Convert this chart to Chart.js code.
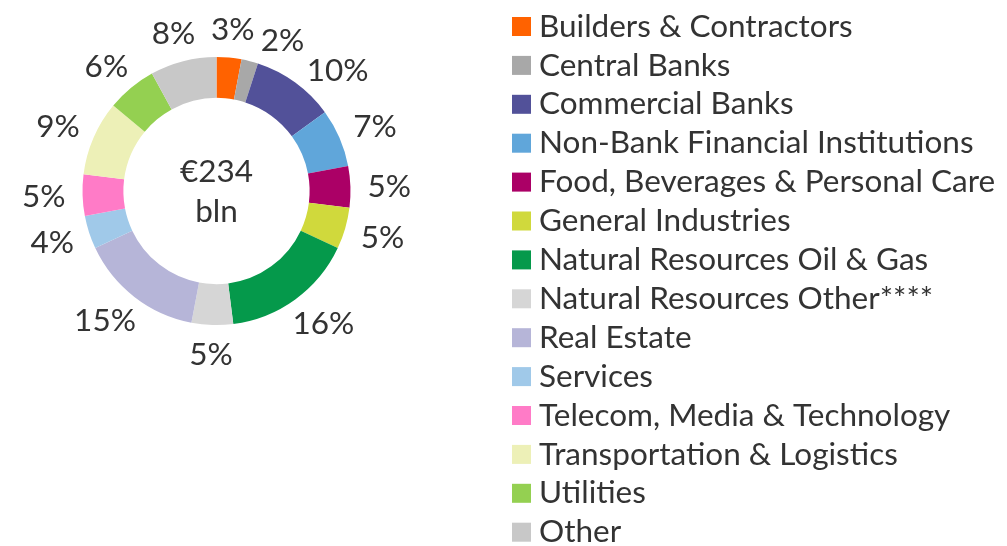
<!DOCTYPE html>
<html>
<head>
<meta charset="utf-8">
<script src="https://cdn.jsdelivr.net/npm/chart.js@4/dist/chart.umd.min.js"></script>
<style>
html,body{margin:0;padding:0;background:#fff;}
#wrap{position:relative;width:1007px;height:546px;}
</style>
</head>
<body>
<div id="wrap"><canvas id="c"></canvas></div>
<script>
const categories = [
  'Builders & Contractors',
  'Central Banks',
  'Commercial Banks',
  'Non-Bank Financial Institutions',
  'Food, Beverages & Personal Care',
  'General Industries',
  'Natural Resources Oil & Gas',
  'Natural Resources Other****',
  'Real Estate',
  'Services',
  'Telecom, Media & Technology',
  'Transportation & Logistics',
  'Utilities',
  'Other'
];
const shares = [3, 2, 10, 7, 5, 5, 16, 5, 15, 4, 5, 9, 6, 8];
const colors = [
  '#FF6200', '#A8A8A8', '#525199', '#60A6DA', '#AB0066', '#D0D93C', '#05994B',
  '#D6D6D6', '#B6B5D8', '#A0C9E9', '#FF7BC7', '#EDF0B7', '#94D051', '#C8C8C8'
];
const centerLines = ['€234', 'bln'];

const FONT_FAMILY = 'Lato, "Open Sans", sans-serif';
const FONT_SIZE = 31.5;
const TEXT_COLOR = '#333333';

function overlap(a, b, m) {
  return Math.abs(a.cx - b.cx) < (a.w + b.w) / 2 + m && Math.abs(a.cy - b.cy) < (a.h + b.h) / 2 + m;
}

const outLabels = {
  id: 'outLabels',
  afterDatasetsDraw(chart) {
    const meta = chart.getDatasetMeta(0);
    const ctx = chart.ctx;
    ctx.save();
    ctx.font = FONT_SIZE + 'px ' + FONT_FAMILY;
    ctx.fillStyle = TEXT_COLOR;
    ctx.textAlign = 'center';
    ctx.textBaseline = 'middle';
    const GAP = 17, H = 24;
    const placed = [];
    meta.data.forEach((arc, i) => {
      const p = arc.getProps(['x', 'y', 'startAngle', 'endAngle', 'outerRadius'], true);
      let a = (p.startAngle + p.endAngle) / 2;
      const text = shares[i] + '%';
      const w = ctx.measureText(text).width;
      let box;
      for (let k = 0; k < 80; k++) {
        const dx = Math.cos(a), dy = Math.sin(a);
        box = {
          cx: p.x + (p.outerRadius + GAP) * dx + (w / 2) * dx,
          cy: p.y + (p.outerRadius + GAP) * dy + (H / 2) * dy,
          w: w, h: H
        };
        if (!placed.some(b => overlap(b, box, 5))) break;
        a += 0.02;
      }
      placed.push(box);
      ctx.fillText(text, box.cx, box.cy + 1);
    });
    const c = meta.data[0].getProps(['x', 'y'], true);
    ctx.fillText(centerLines[0], c.x, c.y - 19);
    ctx.fillText(centerLines[1], c.x, c.y + 21);
    ctx.restore();
  }
};

const sideLegend = {
  id: 'sideLegend',
  afterDraw(chart) {
    const ctx = chart.ctx;
    ctx.save();
    ctx.font = FONT_SIZE + 'px ' + FONT_FAMILY;
    ctx.textAlign = 'left';
    ctx.textBaseline = 'middle';
    const x0 = 512, y0 = 26.5, pitch = 38.9, box = 19;
    chart.data.labels.forEach((lab, i) => {
      const cy = y0 + i * pitch;
      ctx.fillStyle = chart.data.datasets[0].backgroundColor[i];
      ctx.fillRect(x0, cy - box / 2, box, box);
      ctx.fillStyle = TEXT_COLOR;
      ctx.fillText(lab, x0 + 27, cy);
    });
    ctx.restore();
  }
};

new Chart(document.getElementById('c'), {
  type: 'doughnut',
  data: {
    labels: categories,
    datasets: [{
      data: shares,
      backgroundColor: colors,
      borderWidth: 0
    }]
  },
  options: {
    responsive: true,
    maintainAspectRatio: false,
    animation: false,
    cutout: '69.5%',
    layout: { padding: { left: 82, top: 57, right: 656, bottom: 221 } },
    plugins: {
      legend: { display: false },
      tooltip: { enabled: false }
    }
  },
  plugins: [outLabels, sideLegend]
});
</script>
</body>
</html>
